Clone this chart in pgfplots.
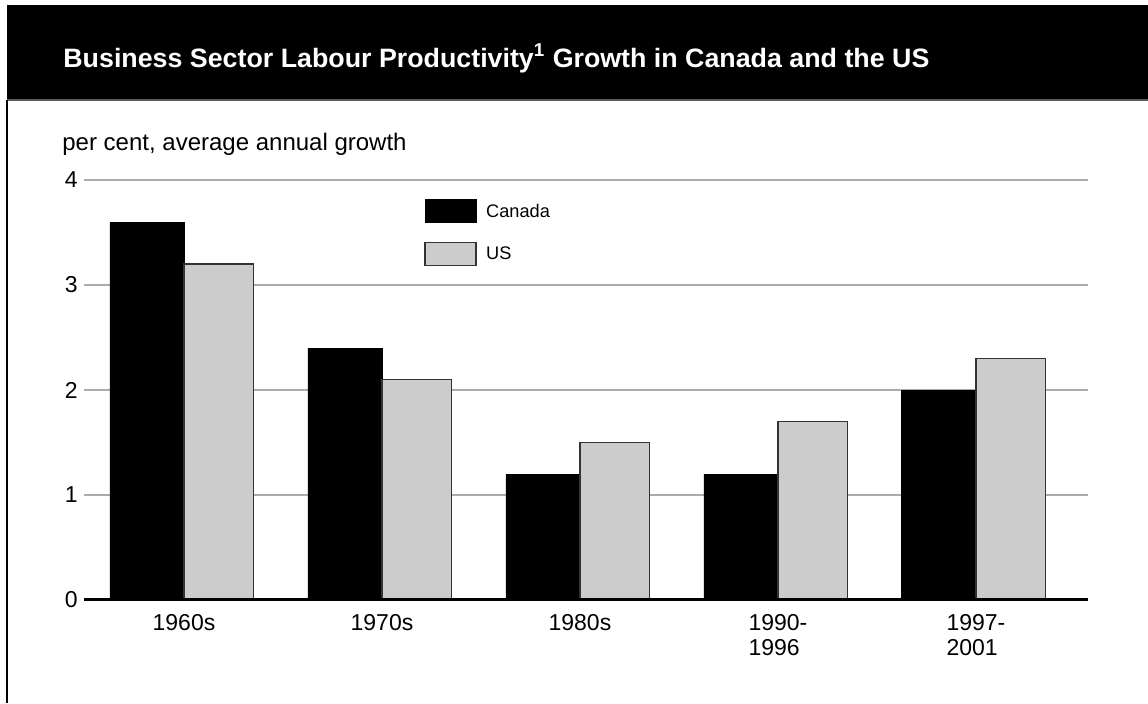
\documentclass[border=0pt]{standalone}
\usepackage{pgfplots}
\pgfplotsset{compat=1.18}
\usepackage{fontspec}
\setmainfont{Liberation Sans}
\usepackage{graphicx}
\definecolor{usgray}{HTML}{CCCCCC}
\definecolor{usedge}{HTML}{333333}
\definecolor{gridgray}{HTML}{ABABAB}
\newsavebox\titlebox
\begin{document}
\sbox\titlebox{\color{white}\bfseries\fontsize{13.3}{15}\selectfont Business Sector Labour Productivity\textsuperscript{1} Growth in Canada and the US}%
\pgfmathsetmacro\tsx{433/\wd\titlebox}%
\begin{tikzpicture}
\begin{scope}[x=0.5pt,y=-0.5pt]
\useasboundingbox (0,0) rectangle (1148,703);
\fill[black] (7,5) rectangle (1148,100);
\draw[black!65, line width=0.6pt] (7,100) -- (1148,100);
\draw[black, line width=0.7pt] (7,100) -- (7,703);
\node[anchor=base west, inner sep=0pt, text=white] at (63,67) {\scalebox{\tsx}[1]{\usebox\titlebox}};
\node[anchor=base west, inner sep=0pt, font=\fontsize{12}{14}\selectfont] at (62,150) {per cent, average annual growth};
\end{scope}
\begin{axis}[
  at={(42pt,-300pt)}, anchor=south west,
  scale only axis, width=502pt, height=210pt,
  xmin=-0.505, xmax=4.566, ymin=0, ymax=4,
  axis line style={draw=none},
  major tick length=0pt,
  ytick={0,1,2,3,4},
  ymajorgrids, grid style={gridgray, line width=0.8pt},
  xtick={0,1,2,3,4},
  xticklabels={1960s,1970s,1980s,{1990-\\1996},{1997-\\2001}},
  /pgf/number format/assume math mode=true,
  yticklabel style={inner sep=0pt, xshift=-3pt, font=\fontsize{11.5}{12.5}\selectfont},
  xticklabel style={inner sep=0pt, yshift=-7pt, align=left, font=\fontsize{11.5}{12.5}\selectfont},
  legend style={at={(0.3386,0.9548)}, anchor=north west, draw=none, fill=none,
    inner sep=0pt, row sep=9.5pt, column sep=4.8pt,
    font=\fontsize{9.1}{11}\selectfont, nodes={inner sep=0pt}},
  legend cell align=left,
]
\addplot[ybar, bar width=0.374, bar shift=-0.187, fill=black, draw=black,
  legend image code/.code={\draw[fill=black,draw=black] (0pt,-5.4pt) rectangle (25.5pt,6.1pt);}]
  coordinates {(0,3.6) (1,2.4) (2,1.2) (3,1.2) (4,2.0)};
\addplot[ybar, bar width=0.35, bar shift=0.175, fill=usgray, draw=usedge, line width=0.6pt,
  legend image code/.code={\draw[fill=usgray,draw=usedge,line width=0.6pt] (0pt,-5.4pt) rectangle (25.5pt,6.1pt);}]
  coordinates {(0,3.2) (1,2.1) (2,1.5) (3,1.7) (4,2.3)};
\legend{Canada, US}
\draw[black, line width=2pt] (axis cs:-0.505,0) -- (axis cs:4.566,0);
\end{axis}
\end{tikzpicture}
\end{document}
